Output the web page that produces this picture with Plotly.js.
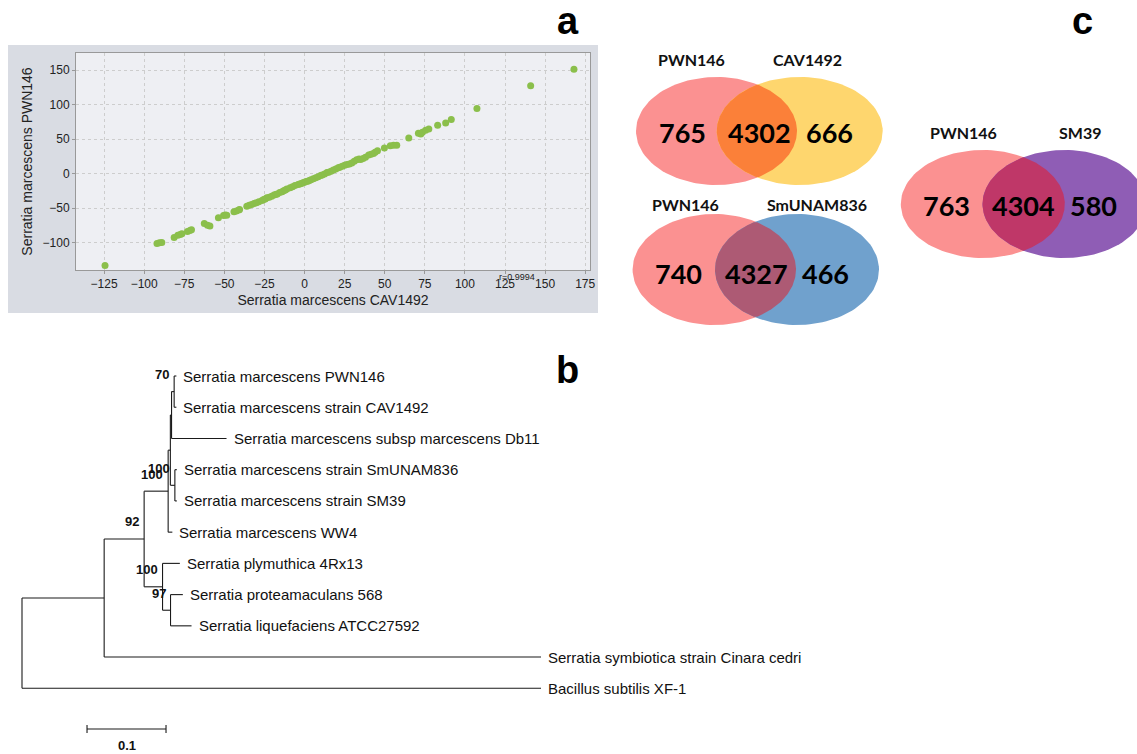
<!DOCTYPE html>
<html><head><meta charset="utf-8">
<script src="https://cdn.plot.ly/plotly-3.0.1.min.js"></script>
<style>html,body{margin:0;padding:0;background:#fff}#chart{width:1137px;height:754px}</style>
</head><body><div id="chart"></div>
<script>
// ===== Panel a: genome comparison scatter =====
const cavX = [-124.4,-92,-90.5,-89,-81.3,-79,-77.5,-76.5,-73,-71.5,-70.5,-62.5,-60.5,-59,
  -53.7,-50.5,-49.5,-48.5,-44,-42.5,-41,-40.5,-36,-34.5,-33,-31.5,-30,-28.5,
  -26.5,-25.5,-24.5,-23.5,-22,-20.5,-19,-18,-17,-15.5,-14,-13,-12,-11,-9,-7.5,-6,
  -4,-3,-2,-1,0,1,2,3,4,5.5,7,8.5,10,11,12.5,14,15,16.5,18,19.5,21,22,23.5,
  25,26.5,28,29.5,31,32.5,34,35,36.5,38,40,41.5,43,44,45.5,49.8,53.5,55.5,57.5,
  65,71,72.5,73.5,75.5,77.5,83,88,91.5,107.5,141,168];
const pwnY = [-133.5,-101.5,-100.5,-100,-93,-89.5,-88.5,-87.5,-84,-82.5,-81.5,-72.5,-75,-76,
  -64,-61,-60,-60.5,-55.5,-54.5,-53,-52,-47.5,-46,-45,-43.5,-42.5,-41,
  -39,-37.5,-37,-35,-34.5,-33,-31,-30.5,-29.5,-27.5,-26.5,-25,-24,-22.5,-20.5,-19,-17.5,
  -16,-15,-14.5,-13.5,-12.5,-11.5,-11,-10,-9,-7.5,-6,-4.5,-3,-2,-0.5,1.5,2,3.5,5,6.5,8.5,9,10.5,
  12,13,14,15.5,18,20,21,20.5,22,23.5,27,28,29,31,33,37,40.5,41,41,
  51.5,58.5,57.5,60,63,64.5,70,73.5,78.5,94.5,127.5,151.5];
const xTickVals = [-125,-100,-75,-50,-25,0,25,50,75,100,125,150,175];
const yTickVals = [-100,-50,0,50,100,150];
const xTitle = 'Serratia marcescens CAV1492';
const yTitle = 'Serratia marcescens PWN146';
const corrLabel = 'r=0.9994';

// ===== Panel b: phylogenetic tree =====
const nodeNames = ['', '', 'Bacillus subtilis XF-1', '', 'Serratia symbiotica strain Cinara cedri',
  '', '', '', 'Serratia marcescens WW4', '', '', '', 'Serratia marcescens subsp marcescens Db11',
  'Serratia marcescens PWN146', 'Serratia marcescens strain CAV1492',
  'Serratia marcescens strain SmUNAM836', 'Serratia marcescens strain SM39',
  'Serratia plymuthica 4Rx13', '', 'Serratia proteamaculans 568', 'Serratia liquefaciens ATCC27592'];
const nodeParent = [-1, 0, 0, 1, 1, 3, 3, 5, 5, 7, 7, 9, 9, 11, 11, 10, 10, 6, 6, 18, 18];
const branchLen  = [0, 0.104, 0.657, 0.0506, 0.553, 0.0304, 0.0233, 0.0028, 0.0053, 0.0015, 0.0057,
  0.0033, 0.0696, 0.0028, 0.0028, 0.0025, 0.0025, 0.0219, 0.0101, 0.0156, 0.0266];
const bootstrap  = [null, null, null, 92, null, 100, 100, null, null, null, 100,
  70, null, null, null, null, null, null, 97, null, null];
const scaleBarLen = 0.1;
const scaleBarLabel = '0.1';

// ===== Panel c: Venn diagrams =====
const vennSetA = ['PWN146', 'PWN146', 'PWN146'];
const vennSetB = ['CAV1492', 'SmUNAM836', 'SM39'];
const vennOnlyA = [765, 740, 763];
const vennShared = [4302, 4327, 4304];
const vennOnlyB = [666, 466, 580];

// ===== Layout geometry (pixels of the 1137x754 canvas) =====
const W = 1137, H = 754;
const sc = {l: 76, r: 590, t: 53, b: 270};
const tree = {rootPx: 22, pxPerUnit: 790, leaf0Px: 376, leafGap: 31.23, barX0: 0.0823, barYpx: 729};
const vennGeo = [
  {a:[716.5,131,80.5,54], b:[799.7,131,83,54], la:[691.7,59], lb:[807.7,59], nums:[682.5,759.3,829], ny:132.5,
   ca:'#fb9191', cb:'#fed66e', cl:'#fb8039'},
  {a:[714.3,269.5,81.7,55.5], b:[797,269.5,82,55.5], la:[685,204], lb:[816.7,204], nums:[678.3,756,825], ny:273.3,
   ca:'#fb9191', cb:'#70a1cd', cl:'#ad5a74'},
  {a:[982.8,204,82,54], b:[1064.5,204,82,54], la:[963.3,132.7], lb:[1080,132.7], nums:[946.7,1023.3,1093.3], ny:205,
   ca:'#fb9191', cb:'#8f5db5', cl:'#bf3768'}
];

const traces = [];
const annotations = [];
const shapes = [];

// --- scatter
traces.push({type:'scatter', mode:'markers', x:cavX, y:pwnY, xaxis:'x', yaxis:'y',
  marker:{color:'#8bbf4b', size:7}, showlegend:false, hoverinfo:'x+y'});
shapes.push({type:'rect', xref:'paper', yref:'paper', x0:8/W, x1:598/W, y0:1-313/H, y1:1-45/H,
  fillcolor:'#d9dce3', line:{width:0}, layer:'below'});
shapes.push({type:'rect', xref:'x domain', yref:'y domain', x0:0, x1:1, y0:0, y1:1,
  fillcolor:'#eeeff3', line:{width:0}, layer:'below'});
annotations.push({xref:'x', yref:'paper', x:120.3, y:1-277/H, text:corrLabel, showarrow:false,
  xanchor:'left', yanchor:'middle', font:{family:'Liberation Sans', size:9, color:'#222'}});

// --- tree
const n = nodeParent.length;
const kids = Array.from({length:n}, () => []);
nodeParent.forEach((p, i) => { if (p >= 0) kids[p].push(i); });
const nx = new Array(n), ny = new Array(n);
let leafCount = 0;
function walk(i, x0) {
  nx[i] = x0 + branchLen[i];
  if (kids[i].length === 0) { ny[i] = leafCount++; }
  else {
    kids[i].forEach(c => walk(c, nx[i]));
    ny[i] = (ny[kids[i][0]] + ny[kids[i][kids[i].length - 1]]) / 2;
  }
}
walk(0, 0);
const tx = [], ty = [];
for (let i = 0; i < n; i++) {
  const p = nodeParent[i];
  if (p >= 0) { tx.push(nx[p], nx[i], null); ty.push(ny[i], ny[i], null); }
  if (kids[i].length) {
    const a = kids[i][0], b = kids[i][kids[i].length - 1];
    tx.push(nx[i], nx[i], null); ty.push(ny[a], ny[b], null);
  }
}
traces.push({type:'scatter', mode:'lines', x:tx, y:ty, xaxis:'x2', yaxis:'y2',
  line:{color:'#1a1a1a', width:1.1}, hoverinfo:'skip', showlegend:false});
const barY = (tree.barYpx - tree.leaf0Px) / tree.leafGap;
const tk = 4 / tree.leafGap;
traces.push({type:'scatter', mode:'lines', xaxis:'x2', yaxis:'y2', hoverinfo:'skip', showlegend:false,
  x:[tree.barX0, tree.barX0 + scaleBarLen, null, tree.barX0, tree.barX0, null, tree.barX0 + scaleBarLen, tree.barX0 + scaleBarLen],
  y:[barY, barY, null, barY - tk, barY + tk, null, barY - tk, barY + tk],
  line:{color:'#1a1a1a', width:1.1}});
annotations.push({xref:'x2', yref:'y2', x:tree.barX0 + scaleBarLen / 2, y:barY, yshift:-16, text:'<b>' + scaleBarLabel + '</b>',
  showarrow:false, font:{family:'Liberation Sans', size:13, color:'#111'}});
for (let i = 0; i < n; i++) {
  if (kids[i].length === 0) {
    annotations.push({xref:'x2', yref:'y2', x:nx[i], y:ny[i], text:nodeNames[i], showarrow:false,
      xanchor:'left', yanchor:'middle', xshift:5, font:{family:'Liberation Sans', size:15, color:'#111'}});
  }
  if (bootstrap[i] !== null) {
    annotations.push({xref:'x2', yref:'y2', x:nx[i], y:ny[i], text:'<b>' + bootstrap[i] + '</b>', showarrow:false,
      xanchor:'right', yanchor:'middle', xshift:-3, yshift:17, font:{family:'Liberation Sans', size:13, color:'#111'}});
  }
}

// --- venn
function ellipsePts(e) {
  const xs = [], ys = [];
  for (let k = 0; k <= 120; k++) { const t = 2 * Math.PI * k / 120; xs.push(e[0] + e[2] * Math.cos(t)); ys.push(e[1] + e[3] * Math.sin(t)); }
  return [xs, ys];
}
function lensPts(a, b) {
  const ry = Math.min(a[3], b[3]);
  const right = [], left = [];
  for (let k = 0; k <= 120; k++) {
    const y = -ry + 2 * ry * k / 120;
    const xr = a[0] + a[2] * Math.sqrt(Math.max(0, 1 - (y / a[3]) ** 2));
    const xl = b[0] - b[2] * Math.sqrt(Math.max(0, 1 - (y / b[3]) ** 2));
    if (xl <= xr) { right.push([xr, a[1] + y]); left.push([xl, a[1] + y]); }
  }
  const pts = right.concat(left.reverse());
  return [pts.map(p => p[0]), pts.map(p => p[1])];
}
vennGeo.forEach((g, i) => {
  const A = ellipsePts(g.a), B = ellipsePts(g.b), L = lensPts(g.a, g.b);
  [[A, g.ca], [B, g.cb], [L, g.cl]].forEach(([P, c]) => {
    traces.push({type:'scatter', mode:'lines', x:P[0], y:P[1], xaxis:'x3', yaxis:'y3', fill:'toself',
      fillcolor:c, line:{width:0, color:c}, hoverinfo:'skip', showlegend:false});
  });
  const lf = {family:'Lato', size:16, color:'#111'};
  annotations.push({xref:'x3', yref:'y3', x:g.la[0], y:g.la[1], text:'<b>' + vennSetA[i] + '</b>', showarrow:false, font:lf});
  annotations.push({xref:'x3', yref:'y3', x:g.lb[0], y:g.lb[1], text:'<b>' + vennSetB[i] + '</b>', showarrow:false, font:lf});
  const nf = {family:'Lato', size:27, color:'#000'};
  [vennOnlyA[i], vennShared[i], vennOnlyB[i]].forEach((v, j) => {
    annotations.push({xref:'x3', yref:'y3', x:g.nums[j], y:g.ny, text:'<b>' + v + '</b>', showarrow:false, font:nf});
  });
});

// --- panel letters
annotations.push({xref:'paper', yref:'paper', x:568 / W, y:1, yanchor:'top', yshift:2, text:'<b>a</b>', showarrow:false,
  font:{family:'Liberation Sans', size:38, color:'#000'}});
annotations.push({xref:'paper', yref:'paper', x:1095 / W, y:1, yanchor:'top', yshift:2, text:'<b>c</b>', showarrow:false,
  font:{family:'Liberation Sans', size:38, color:'#000'}});
annotations.push({xref:'paper', yref:'paper', x:567 / W, y:1 - 370 / H, text:'<b>b</b>', showarrow:false,
  font:{family:'Liberation Sans', size:38, color:'#000'}});

const tickFont = {family:'Liberation Sans', size:12, color:'#222'};
const layout = {
  width:W, height:H, margin:{l:0, r:0, t:0, b:0}, paper_bgcolor:'#fff', plot_bgcolor:'rgba(0,0,0,0)',
  showlegend:false, hovermode:'closest',
  xaxis:{domain:[sc.l / W, sc.r / W], anchor:'y', range:[-142.5, 178], tickvals:xTickVals, tickfont:tickFont,
    showgrid:true, gridcolor:'#cdcdcd', griddash:'dot', gridwidth:1, zeroline:false,
    showline:true, mirror:true, linecolor:'#999', ticks:'outside', ticklen:3, tickcolor:'#999',
    title:{text:xTitle, font:{family:'Liberation Sans', size:14, color:'#222'}, standoff:4}},
  yaxis:{domain:[1 - sc.b / H, 1 - sc.t / H], anchor:'x', range:[-140, 175], tickvals:yTickVals, tickfont:tickFont,
    showgrid:true, gridcolor:'#cdcdcd', griddash:'dot', gridwidth:1, zeroline:false,
    showline:true, mirror:true, linecolor:'#999', ticks:'outside', ticklen:3, tickcolor:'#999',
    title:{text:yTitle, font:{family:'Liberation Sans', size:14, color:'#222'}, standoff:6}},
  xaxis2:{domain:[0, 1], anchor:'y2', range:[-tree.rootPx / tree.pxPerUnit, (W - tree.rootPx) / tree.pxPerUnit], visible:false},
  yaxis2:{domain:[0, 1], anchor:'x2', range:[(H - tree.leaf0Px) / tree.leafGap, -tree.leaf0Px / tree.leafGap], visible:false},
  xaxis3:{domain:[0, 1], anchor:'y3', range:[0, W], visible:false},
  yaxis3:{domain:[0, 1], anchor:'x3', range:[H, 0], visible:false},
  shapes:shapes, annotations:annotations
};
Plotly.newPlot('chart', traces, layout, {displayModeBar:false, staticPlot:true});
</script></body></html>
